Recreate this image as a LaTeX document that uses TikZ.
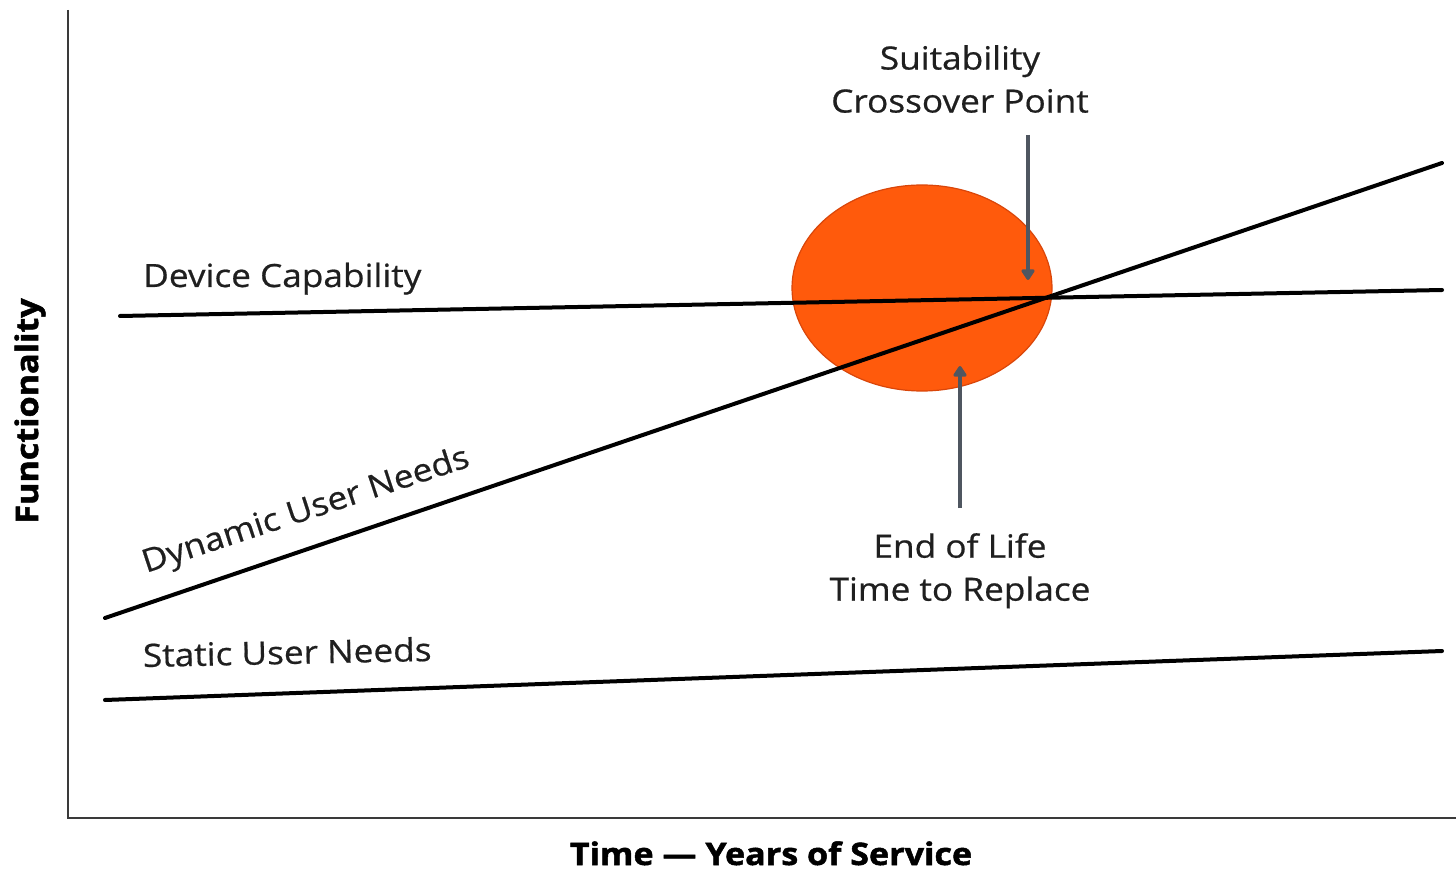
\documentclass[tikz,border=0pt]{standalone}
\usepackage{fontspec}
\setmainfont{Open Sans}
\newfontfamily\lblfont[FakeStretch=1.1,FakeBold=0.6]{Open Sans}
\newfontfamily\axfont[FakeStretch=1.1,BoldFeatures={FakeBold=1.6,FakeStretch=1.1}]{Open Sans}
\usetikzlibrary{arrows.meta,shapes.geometric}
\definecolor{blob}{HTML}{FF5A0C}
\definecolor{blobedge}{HTML}{D9460A}
\definecolor{ptr}{HTML}{4F5660}
\definecolor{axisc}{HTML}{3A3A3A}
\tikzset{
  curve/.style={line width=4pt, black, line cap=round},
  axisline/.style={line width=2.8pt, axisc},
  pointer/.style={line width=3.8pt, ptr, -{Triangle[round,length=12pt,width=15pt]}},
  lbl/.style={font=\lblfont\fontsize{32}{43}\selectfont, inner sep=0pt, text=black!88},
  axlbl/.style={font=\axfont\bfseries\fontsize{31}{34}\selectfont, inner sep=0pt},
}
\begin{document}
\begin{tikzpicture}[x=1pt,y=-1pt]
\useasboundingbox (0,0) rectangle (1456,874);
% axes
\coordinate (top) at (68,10);
\coordinate (orig) at (68,818);
\coordinate (right) at (1456,818);
\draw[axisline] (top) -- (orig) -- (right);
% ellipse
\node[ellipse, draw=blobedge, fill=blob, line width=1.2pt, minimum width=260pt, minimum height=206pt, inner sep=0pt] (blobnode) at (922,288) {};
% lines
\coordinate (dc1) at (120,316);
\coordinate (dc2) at (1442,290);
\coordinate (dy1) at (105,618);
\coordinate (dy2) at (1442,163);
\coordinate (st1) at (105,700);
\coordinate (st2) at (1442,651);
\draw[curve] (dc1) -- (dc2);
\draw[curve] (dy1) -- (dy2);
\draw[curve] (st1) -- (st2);
% labels
\node[lbl, anchor=base west] (devlbl) at (143,287) {Device Capability};
\node[lbl, anchor=base west, rotate=1.2] (statlbl) at (143,667) {Static User Needs};
\node[lbl, anchor=base west, rotate=18.2] (dynlbl) at (146,573) {Dynamic User Needs};
\node[lbl, align=center, anchor=north] (suit) at (960,45) {Suitability\\Crossover Point};
\node[lbl, align=center, anchor=north] (eol) at (960,533) {End of Life\\Time to Replace};
% pointers
\coordinate (p1s) at (1028,135);
\coordinate (p1e) at (1028,280);
\coordinate (p2s) at (960,508);
\coordinate (p2e) at (960,366);
\draw[pointer] (p1s) -- (p1e);
\draw[pointer] (p2s) -- (p2e);
% axis labels
\node[axlbl, rotate=90] (ylbl) at (30,411) {Functionality};
\node[axlbl, anchor=base] (xlbl) at (771,865) {Time — Years of Service};
\end{tikzpicture}
\end{document}
